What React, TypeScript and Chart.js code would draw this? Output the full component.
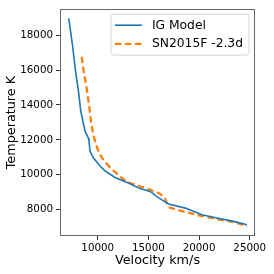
import React, { useEffect, useRef } from "react";
import { Chart, registerables } from "chart.js";

Chart.register(...registerables);

const seriesLabels = ["IG Model", "SN2015F -2.3d"];

const igVelocity = [
  7140, 7500, 7800, 8100, 8330, 8750, 9070, 9140, 9240, 9570, 10230, 10720,
  11710, 13190, 14170, 15160, 15480, 15700, 16340, 17000, 18640, 20280,
  21760, 23410, 24720,
];
const igTemperature = [
  18970, 17500, 16000, 14800, 13650, 12500, 12110, 11940, 11350, 10970, 10500,
  10220, 9840, 9480, 9200, 9040, 8910, 8800, 8550, 8320, 8080, 7700, 7510,
  7320, 7130,
];

const snVelocity = [
  8420, 8600, 8900, 9150, 9350, 9570, 9800, 10100, 10500, 11000, 11540, 12520,
  13190, 14170, 15160, 16140, 16640, 17000, 17820, 20100, 22100, 23740, 24720,
];
const snTemperature = [
  16770, 16000, 15000, 14000, 13000, 12300, 11800, 11300, 10900, 10550, 10240,
  9740, 9510, 9330, 9140, 8910, 8630, 8130, 7980, 7650, 7420, 7230, 7040,
];

const xTicks = [10000, 15000, 20000, 25000];
const yTicks = [8000, 10000, 12000, 14000, 16000, 18000];
const xRange = [6280, 25520];
const yRange = [6480, 19500];

const FONT = "'DejaVu Sans', sans-serif";

const framePlugin = {
  id: "frame",
  afterDraw(chart: any) {
    const { ctx, chartArea } = chart;
    ctx.save();
    ctx.strokeStyle = "#666";
    ctx.lineWidth = 1;
    ctx.strokeRect(
      Math.round(chartArea.left) + 0.5,
      Math.round(chartArea.top) + 0.5,
      Math.round(chartArea.right - chartArea.left) - 1,
      Math.round(chartArea.bottom - chartArea.top) - 1
    );
    ctx.restore();
  },
};

const legendPlugin = {
  id: "mplLegend",
  afterDraw(chart: any) {
    const { ctx, chartArea } = chart;
    const ds = chart.data.datasets;
    ctx.save();
    ctx.font = `12.3px ${FONT}`;
    let maxW = 0;
    ds.forEach((d: any) => {
      maxW = Math.max(maxW, ctx.measureText(d.label).width);
    });
    const handleLen = 27;
    const padL = 4;
    const gap = 10;
    const padR = 6;
    const rowH = 18.6;
    const w = padL + handleLen + gap + maxW + padR;
    const h = 41;
    const right = chartArea.right - 6;
    const left = right - w;
    const top = chartArea.top + 5;
    const r = 3;
    ctx.beginPath();
    ctx.moveTo(left + r, top);
    ctx.lineTo(left + w - r, top);
    ctx.quadraticCurveTo(left + w, top, left + w, top + r);
    ctx.lineTo(left + w, top + h - r);
    ctx.quadraticCurveTo(left + w, top + h, left + w - r, top + h);
    ctx.lineTo(left + r, top + h);
    ctx.quadraticCurveTo(left, top + h, left, top + h - r);
    ctx.lineTo(left, top + r);
    ctx.quadraticCurveTo(left, top, left + r, top);
    ctx.closePath();
    ctx.fillStyle = "rgba(255,255,255,0.8)";
    ctx.fill();
    ctx.strokeStyle = "#d6d6d6";
    ctx.lineWidth = 1;
    ctx.stroke();
    ds.forEach((d: any, i: number) => {
      const y = top + 11 + i * rowH;
      ctx.beginPath();
      ctx.strokeStyle = d.borderColor;
      ctx.lineWidth = d.borderWidth;
      ctx.setLineDash(d.borderDash || []);
      ctx.moveTo(left + padL, y);
      ctx.lineTo(left + padL + handleLen, y);
      ctx.stroke();
      ctx.setLineDash([]);
      ctx.fillStyle = "#000";
      ctx.textBaseline = "middle";
      ctx.textAlign = "left";
      ctx.fillText(d.label, left + padL + handleLen + gap, y + 0.5);
    });
    ctx.restore();
  },
};

export default function App() {
  const ref = useRef<HTMLCanvasElement | null>(null);
  useEffect(() => {
    if (!ref.current) return;
    const chart = new Chart(ref.current, {
      type: "line",
      data: {
        datasets: [
          {
            label: seriesLabels[0],
            data: igVelocity.map((x, i) => ({ x, y: igTemperature[i] })),
            borderColor: "#1f77b4",
            backgroundColor: "#1f77b4",
            borderWidth: 1.6,
            pointRadius: 0,
            tension: 0,
          },
          {
            label: seriesLabels[1],
            data: snVelocity.map((x, i) => ({ x, y: snTemperature[i] })),
            borderColor: "#ff7f0e",
            backgroundColor: "#ff7f0e",
            borderWidth: 2.3,
            borderDash: [6.5, 3.5],
            pointRadius: 0,
            tension: 0,
          },
        ],
      },
      options: {
        animation: false,
        responsive: false,
        devicePixelRatio: 1,
        layout: { padding: { top: 7, right: 19, left: 0, bottom: 0 } },
        plugins: {
          legend: { display: false },
          tooltip: { enabled: false },
        },
        scales: {
          x: {
            type: "linear",
            min: xRange[0],
            max: xRange[1],
            afterBuildTicks: (s: any) => {
              s.ticks = xTicks.map((v) => ({ value: v }));
            },
            afterFit: (s: any) => {
              s.height = 38;
            },
            grid: {
              display: true,
              drawOnChartArea: false,
              drawTicks: true,
              tickLength: 4,
              color: "#333",
            },
            border: { display: false },
            ticks: {
              color: "#000",
              font: { family: FONT, size: 10.3 },
              padding: 2,
              maxRotation: 0,
              callback: (v: any) => String(v),
            },
            title: {
              display: true,
              text: "Velocity km/s",
              color: "#000",
              font: { family: FONT, size: 12.8 },
              padding: { top: 0, bottom: 6 },
            },
          },
          y: {
            type: "linear",
            min: yRange[0],
            max: yRange[1],
            afterBuildTicks: (s: any) => {
              s.ticks = yTicks.map((v) => ({ value: v }));
            },
            afterFit: (s: any) => {
              s.width = 60;
            },
            grid: {
              display: true,
              drawOnChartArea: false,
              drawTicks: true,
              tickLength: 4,
              color: "#333",
            },
            border: { display: false },
            ticks: {
              color: "#000",
              font: { family: FONT, size: 10.3 },
              padding: 3,
              callback: (v: any) => String(v),
            },
            title: {
              display: true,
              text: "Temperature K",
              color: "#000",
              font: { family: FONT, size: 12.8 },
              padding: { top: 4, bottom: 0 },
            },
          },
        },
      },
      plugins: [framePlugin, legendPlugin],
    } as any);
    return () => chart.destroy();
  }, []);
  return (
    <div style={{ position: "fixed", left: 0, top: 0, width: 274, height: 274, background: "#fff" }}>
      <canvas ref={ref} width={274} height={274} style={{ width: 274, height: 274, display: "block" }} />
    </div>
  );
}
